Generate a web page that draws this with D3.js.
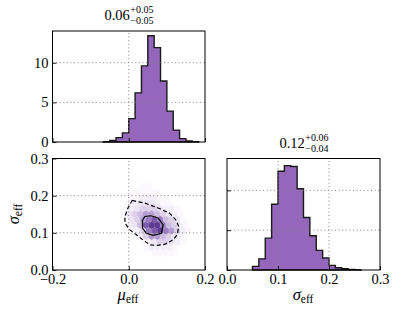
<!DOCTYPE html>
<html>
<head>
<meta charset="utf-8">
<script src="https://cdn.jsdelivr.net/npm/d3@7"></script>
<style>
  body { margin: 0; background: #fff; }
  svg text { font-family: "Liberation Serif", "DejaVu Serif", serif; fill: #000; }
</style>
</head>
<body>
<div id="chart"></div>
<script>
// marginal densities, 24 bins each
const muRange = [-0.2, 0.2];
const muDensity = [0, 0, 0, 0, 0, 0, 0, 0, 0.05, 0.2, 0.55, 1.15,
  2.95, 6.2, 9.6, 13.4, 11.9, 7.7, 3.9, 1.5, 0.42, 0.13, 0.03, 0];
const sigmaRange = [0, 0.3];
const sigmaDensity = [0, 0, 0, 0, 0.46, 1.4, 4.0, 8.25, 12.4, 13.1, 13.0, 10.2,
  6.6, 4.3, 2.46, 1.5, 0.58, 0.29, 0.17, 0.08, 0.03, 0, 0, 0];

// 2D hexbin intensity (0-9), rows from sigma=0.24 down, cols from mu=-0.045, step 0.015
const hexMu0 = -0.045, hexSig0 = 0.24, hexStep = 0.015;
const hexRows = [
  "000000000000000",
  "000001100000000",
  "000011111000000",
  "000112221100000",
  "000123332110000",
  "001234443221000",
  "001345665432100",
  "001346787543100",
  "001235899754210",
  "000124789764210",
  "000012466543210",
  "000001234432100",
  "000000122221000",
  "000000011110000",
  "000000000000000"
];

// credible contours [mu, sigma]
const outerContour = [[0.009, 0.187], [0.042, 0.180], [0.077, 0.167], [0.107, 0.153],
  [0.125, 0.133], [0.131, 0.117], [0.127, 0.095], [0.116, 0.081], [0.094, 0.069],
  [0.072, 0.066], [0.055, 0.068], [0.037, 0.081], [0.020, 0.095], [0.003, 0.108],
  [-0.010, 0.126], [-0.010, 0.144], [-0.002, 0.167]];
const innerContour = [[0.042, 0.144], [0.058, 0.146], [0.077, 0.140], [0.090, 0.122],
  [0.086, 0.099], [0.064, 0.093], [0.046, 0.099], [0.036, 0.113], [0.036, 0.133]];

const muTitle = ["0.06", "+0.05", "\u22120.05"];
const sigmaTitle = ["0.12", "+0.06", "\u22120.04"];

const histColor = "#9467bd";
const width = 399, height = 317;

const svg = d3.select("#chart").append("svg")
  .attr("width", width).attr("height", height);

// scales
const muX = d3.scaleLinear().domain(muRange).range([52.5, 205]);
const topY = d3.scaleLinear().domain([0, 14]).range([142, 31]);
const sigY = d3.scaleLinear().domain(sigmaRange).range([270, 158.5]);
const sigX = d3.scaleLinear().domain(sigmaRange).range([227, 380]);
const brY = d3.scaleLinear().domain([0, 14]).range([270, 158.5]);

const fmt1 = d => d3.format(".1f")(d).replace("-", "\u2212");

// histogram step outline
function histPoints(dens, range) {
  const w = (range[1] - range[0]) / dens.length;
  let first = dens.findIndex(v => v > 0);
  let last = dens.length - 1 - [...dens].reverse().findIndex(v => v > 0);
  const pts = [[range[0] + first * w, 0]];
  for (let i = first; i <= last; i++) {
    pts.push([range[0] + i * w, dens[i]]);
    pts.push([range[0] + (i + 1) * w, dens[i]]);
  }
  pts.push([range[0] + (last + 1) * w, 0]);
  return pts;
}

function drawHist(dens, range, xs, ys) {
  const line = d3.line().x(d => xs(d[0])).y(d => ys(d[1]));
  svg.append("path")
    .attr("d", line(histPoints(dens, range)) + "Z")
    .attr("fill", histColor)
    .attr("stroke", "#1a1a1a")
    .attr("stroke-width", 1.4)
    .attr("stroke-linejoin", "miter");
}

function grid(xs, ys, xv, yv) {
  const g = svg.append("g")
    .attr("stroke", "#808080").attr("stroke-width", 1)
    .attr("stroke-dasharray", "1,2.6").attr("fill", "none");
  xv.forEach(v => g.append("line")
    .attr("x1", xs(v)).attr("x2", xs(v))
    .attr("y1", ys.range()[0]).attr("y2", ys.range()[1]));
  yv.forEach(v => g.append("line")
    .attr("y1", ys(v)).attr("y2", ys(v))
    .attr("x1", xs.range()[0]).attr("x2", xs.range()[1]));
}

function axes(xs, ys, xt, yt, xlab, ylab) {
  const y0 = ys.range()[0], x0 = xs.range()[0];
  const ax = svg.append("g").attr("transform", `translate(0,${y0})`)
    .call(d3.axisBottom(xs).tickValues(xt).tickSize(-4).tickPadding(4)
      .tickFormat(xlab ? fmt1 : () => ""));
  const ay = svg.append("g").attr("transform", `translate(${x0},0)`)
    .call(d3.axisLeft(ys).tickValues(yt).tickSize(-4).tickPadding(4)
      .tickFormat(ylab || (() => "")));
  [ax, ay].forEach(a => {
    a.select(".domain").remove();
    a.selectAll("line").attr("stroke", "#000").attr("stroke-width", 0.9);
    a.selectAll("text").style("font-size", "14.5px")
      .style("font-family", "Liberation Serif, serif");
  });
  svg.append("rect")
    .attr("x", x0).attr("y", ys.range()[1])
    .attr("width", xs.range()[1] - x0).attr("height", y0 - ys.range()[1])
    .attr("fill", "none").attr("stroke", "#000").attr("stroke-width", 1);
}

function title(parts, cx, axTop) {
  const g = svg.append("g");
  const main = g.append("text").attr("x", 0).attr("y", axTop - 11)
    .style("font-size", "14.5px").text(parts[0]);
  const w1 = main.node().getComputedTextLength() + 0.5;
  const sup = g.append("text").attr("x", w1).attr("y", axTop - 18)
    .style("font-size", "10px").text(parts[1]);
  const sub = g.append("text").attr("x", w1).attr("y", axTop - 7)
    .style("font-size", "10px").text(parts[2]);
  const w2 = Math.max(sup.node().getComputedTextLength(), sub.node().getComputedTextLength());
  g.attr("transform", `translate(${cx - (w1 + w2) / 2},0)`);
}

function mathLabel(sym, x, y, rotate) {
  const t = svg.append("text")
    .attr("transform", `translate(${x},${y})` + (rotate ? " rotate(-90)" : ""))
    .attr("text-anchor", "middle");
  t.append("tspan").style("font-size", "16.5px").style("font-style", "italic").text(sym);
  t.append("tspan").style("font-size", "11.5px").attr("dy", 3).text("eff");
}

// --- top: mu marginal
drawHist(muDensity, muRange, muX, topY);
grid(muX, topY, [0], [5, 10]);
axes(muX, topY, [-0.2, 0, 0.2], [0, 5, 10], false, d => d);
title(muTitle, 129, 31);

// --- bottom-left: joint
const color = d3.scaleLinear().domain([1, 3, 5, 7, 9])
  .range(["#faf8fc", "#ece5f3", "#cdbde0", "#9a7cc0", "#5e3b90"]);
const ry = hexStep / 1.5;
const hexLine = d3.line().x(d => muX(d[0])).y(d => sigY(d[1]));
const hexes = [];
hexRows.forEach((row, r) => {
  row.split("").forEach((ch, c) => {
    const v = +ch;
    if (v === 0) return;
    const mu = hexMu0 + c * hexStep + (r % 2 ? hexStep / 2 : 0);
    const sg = hexSig0 - r * hexStep;
    hexes.push({ v, pts: [[mu, sg + ry], [mu + hexStep / 2, sg + ry / 2],
      [mu + hexStep / 2, sg - ry / 2], [mu, sg - ry],
      [mu - hexStep / 2, sg - ry / 2], [mu - hexStep / 2, sg + ry / 2]] });
  });
});
svg.append("g").selectAll("path").data(hexes).join("path")
  .attr("d", d => hexLine(d.pts) + "Z")
  .attr("fill", d => color(d.v))
  .attr("stroke", d => color(d.v)).attr("stroke-width", 0.3);

const contourLine = d3.line().x(d => muX(d[0])).y(d => sigY(d[1])).curve(d3.curveLinearClosed);
svg.append("path").attr("d", contourLine(outerContour))
  .attr("fill", "none").attr("stroke", "#000").attr("stroke-width", 1.2)
  .attr("stroke-dasharray", "4,2.5");
svg.append("path").attr("d", contourLine(innerContour))
  .attr("fill", "none").attr("stroke", "#000").attr("stroke-width", 1.2);

grid(muX, sigY, [0], [0.1, 0.2]);
axes(muX, sigY, [-0.2, 0, 0.2], [0, 0.1, 0.2, 0.3], true, fmt1);
mathLabel("\u03bc", 128, 300, false);
mathLabel("\u03c3", 19, 214, true);

// --- bottom-right: sigma marginal
drawHist(sigmaDensity, sigmaRange, sigX, brY);
grid(sigX, brY, [0.1, 0.2], [5, 10]);
axes(sigX, brY, [0, 0.1, 0.2, 0.3], [0, 5, 10], true, null);
title(sigmaTitle, 304, 158.5);
mathLabel("\u03c3", 303, 300, false);
</script>
</body>
</html>
